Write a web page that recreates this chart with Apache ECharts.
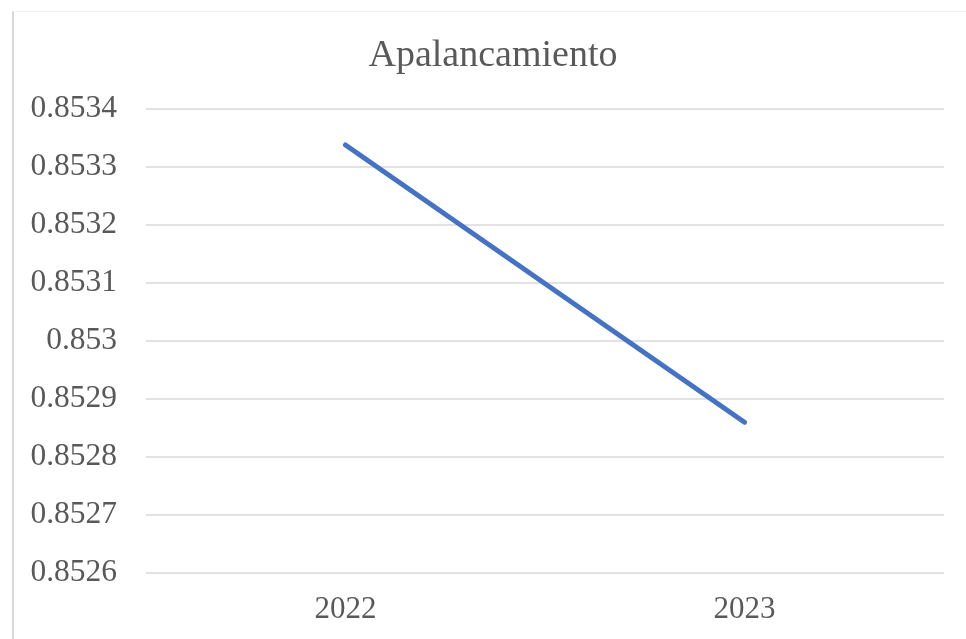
<!DOCTYPE html>
<html>
<head>
<meta charset="utf-8">
<script src="https://cdn.jsdelivr.net/npm/echarts@6/dist/echarts.min.js"></script>
<style>
html,body{margin:0;padding:0;background:#fff;}
#c{width:966px;height:639px;}
</style>
</head>
<body>
<div id="c"></div>
<script>
const titleText = 'Apalancamiento';
const categories = ['2022', '2023'];
const values = [0.853338, 0.85286];
const yMin = 0.8526, yMax = 0.8534, yStep = 0.0001;

const chart = echarts.init(document.getElementById('c'));
chart.setOption({
  animation: false,
  backgroundColor: '#fff',
  textStyle: { fontFamily: 'Liberation Serif' },
  title: {
    text: titleText,
    left: 488,
    textAlign: 'center',
    top: 32,
    textStyle: { fontFamily: 'Liberation Serif', fontSize: 38, fontWeight: 'normal', color: '#595959' }
  },
  graphic: [
    { type: 'line', shape: { x1: 13, y1: 11, x2: 13, y2: 639 }, style: { stroke: '#d9d9d9', lineWidth: 2 } },
    { type: 'line', shape: { x1: 13, y1: 11.5, x2: 966, y2: 11.5 }, style: { stroke: '#f2f2f2', lineWidth: 1 } }
  ],
  grid: { left: 146, right: 22, top: 109, bottom: 66, containLabel: false },
  xAxis: {
    type: 'category',
    data: categories,
    boundaryGap: true,
    axisLine: { show: false },
    axisTick: { show: false },
    axisLabel: { fontFamily: 'Liberation Serif', fontSize: 31, color: '#595959', margin: 21 }
  },
  yAxis: {
    type: 'value',
    min: yMin,
    max: yMax,
    interval: yStep,
    axisLine: { show: false },
    axisTick: { show: false },
    splitLine: { lineStyle: { color: '#d9d9d9', width: 1.5 } },
    axisLabel: {
      fontFamily: 'Liberation Serif', fontSize: 31.5, color: '#595959', margin: 29,
      formatter: v => String(parseFloat(v.toFixed(4)))
    }
  },
  series: [{
    type: 'line',
    data: values,
    symbol: 'none',
    lineStyle: { color: '#4472C4', width: 5, cap: 'round' }
  }]
});
</script>
</body>
</html>
